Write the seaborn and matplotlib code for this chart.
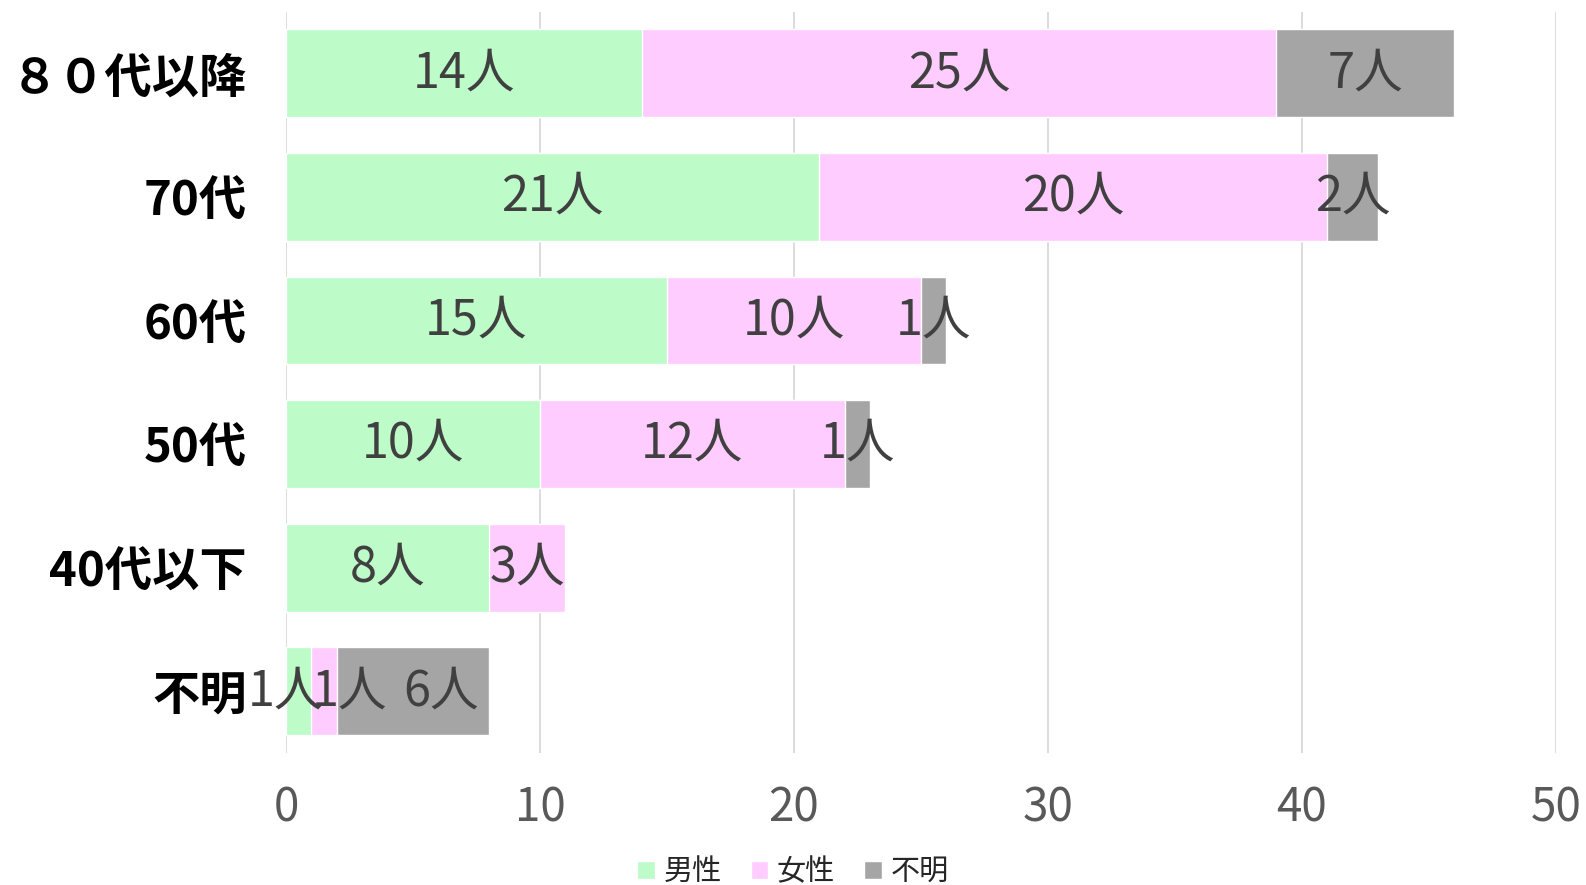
import pandas as pd
import numpy as np
import seaborn as sns
import matplotlib.pyplot as plt
from matplotlib.patches import Patch

# ------ data ------
ages = ["８０代以降", "70代", "60代", "50代", "40代以下", "不明"]
male = [14, 21, 15, 10, 8, 1]
female = [25, 20, 10, 12, 3, 1]
unknown = [7, 2, 1, 1, 0, 6]
series_names = ["男性", "女性", "不明"]
colors = ["#BDFBC8", "#FFCCFF", "#A5A5A5"]

# label nudges (x units) for the crowded last row, like Excel moves them
label_nudge = {5: [-0.5, 1.0, 1.1]}

sns.set_style("white")
plt.rcParams['font.family'] = ['Noto Sans CJK JP', 'DejaVu Sans']

df = pd.DataFrame({"age": ages, "male": male, "female": female, "unknown": unknown})
df["mf"] = df["male"] + df["female"]
df["total"] = df["mf"] + df["unknown"]

fig = plt.figure(figsize=(15.86, 8.85), dpi=100)
ax = fig.add_axes([0.1803, 0.149, 0.8007, 0.838])

# stacked bars: draw the totals first, then overlay the shorter sums
sns.barplot(ax=ax, data=df, x="total", y="age", color=colors[2], saturation=1, width=0.71, orient="h")
sns.barplot(ax=ax, data=df, x="mf", y="age", color=colors[1], saturation=1, width=0.71, orient="h")
sns.barplot(ax=ax, data=df, x="male", y="age", color=colors[0], saturation=1, width=0.71, orient="h")

# segment labels
for i, row in df.iterrows():
    starts = [0, row["male"], row["mf"]]
    nudge = label_nudge.get(i, [0, 0, 0])
    for s, v, d in zip(starts, [row["male"], row["female"], row["unknown"]], nudge):
        if v > 0:
            ax.text(s + v / 2 + d, i, f"{v}人", ha="center", va="center",
                    fontsize=35, color="#404040")

ax.set_xlim(0, 50)
ax.set_xticks(np.arange(0, 51, 10))
ax.xaxis.grid(True, color="#D9D9D9", linewidth=1.3)
ax.set_axisbelow(True)
for sp in ax.spines.values():
    sp.set_visible(False)
ax.set_xlabel(None)
ax.set_ylabel(None)
ax.tick_params(axis="x", labelsize=33, labelcolor="#595959", length=0, pad=22)
ax.tick_params(axis="y", labelsize=34, labelcolor="black", length=0, pad=28)
for lab in ax.get_yticklabels():
    lab.set_fontweight("bold")

handles = [Patch(facecolor=c, label=n) for c, n in zip(colors, series_names)]
fig.legend(handles=handles, loc="lower center", bbox_to_anchor=(0.5, -0.032), ncol=3,
           frameon=False, fontsize=21, handlelength=0.6, handleheight=0.6,
           handletextpad=0.3, columnspacing=1.0)

fig.savefig("out.png", dpi=100)
